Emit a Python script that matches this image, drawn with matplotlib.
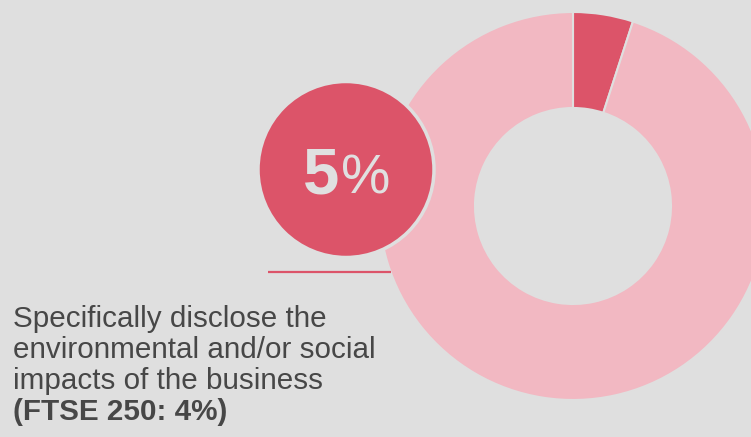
import matplotlib
matplotlib.use("Agg")
import matplotlib.pyplot as plt
from matplotlib.patches import Circle

# Data
labels = ["Disclose impacts", "Other"]
values = [5, 95]
headline_number = "5"
headline_unit = "%"
caption_lines = ["Specifically disclose the",
                 "environmental and/or social",
                 "impacts of the business"]
caption_bold = "(FTSE 250: 4%)"

BG = "#dfdfdf"
DARK = "#dc5469"
LIGHT = "#f2b8c2"
TEXT = "#474747"

W, H = 751, 437
fig = plt.figure(figsize=(W / 100, H / 100), dpi=100, facecolor=BG)
ax = fig.add_axes([0, 0, 1, 1])
ax.set_facecolor(BG)

# Donut
cx, cy = 573, H - 206
ax.pie(values, colors=[DARK, LIGHT], startangle=90, counterclock=False,
       center=(cx, cy), radius=194, frame=True,
       wedgeprops=dict(width=96, edgecolor=BG, linewidth=1.5))
ax.set_xlim(0, W)
ax.set_ylim(0, H)
ax.set_aspect("equal")
ax.axis("off")

# Highlight circle
circ = Circle((346, H - 169.5), 88, facecolor=DARK, edgecolor=BG, linewidth=2.5, zorder=5)
ax.add_patch(circ)
ax.text(339, H - 194, headline_number, ha="right", va="baseline", color="#e0e0e0",
        fontsize=47, fontweight="bold", family="Liberation Sans", zorder=6)
ax.text(341, H - 194, headline_unit, ha="left", va="baseline", color="#e0e0e0",
        fontsize=40, family="Liberation Sans", zorder=6)

# Separator line
ax.plot([268, 391], [H - 272, H - 272], color=DARK, linewidth=1.6, zorder=4,
        solid_capstyle="butt")

# Caption
baselines = [327, 358, 389, 420]
for line, b in zip(caption_lines, baselines[:3]):
    ax.text(13, H - b, line, ha="left", va="baseline", color=TEXT,
            fontsize=21.3, family="Liberation Sans", zorder=6)
ax.text(13, H - baselines[3], caption_bold, ha="left", va="baseline", color=TEXT,
        fontsize=21.3, fontweight="bold", family="Liberation Sans", zorder=6)

fig.savefig("out.png", dpi=100, facecolor=BG)
